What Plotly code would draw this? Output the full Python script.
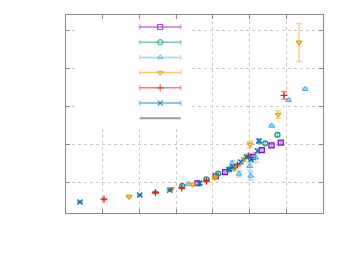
import plotly.graph_objects as go

# ---- data ----
s1_x = [3.580, 4.079, 4.332, 5.095, 5.332, 5.597, 5.850]
s1_y = [0.974, 1.158, 1.266, 1.666, 1.845, 1.968, 2.042]
s1_e = [0.03, 0.03, 0.03, 0.04, 0.04, 0.04, 0.04]

s2_x = [3.166, 3.826, 4.147, 4.455, 5.428, 5.760]
s2_y = [0.903, 1.079, 1.226, 1.342, 2.021, 2.245]
s2_e = [0.03, 0.03, 0.03, 0.03, 0.04, 0.04]

s3_x = [2.436, 3.335, 4.534, 4.714, 5.003, 5.033, 5.169, 5.259, 5.605, 6.060, 6.512]
s3_y = [0.732, 0.947, 1.500, 1.218, 1.422, 1.166, 1.647, 2.061, 2.482, 3.158, 3.447]
s3_e = [0.02, 0.02, 0.07, 0.08, 0.10, 0.11, 0.13, 0.05, 0.03, 0.03, 0.03]

s4_x = [1.717, 2.866, 3.444, 4.052, 4.578, 4.850, 5.014, 5.777, 6.349]
s4_y = [0.621, 0.824, 0.947, 1.121, 1.358, 1.605, 1.995, 2.779, 4.674]
s4_e = [0.02, 0.02, 0.03, 0.03, 0.04, 0.05, 0.09, 0.10, 0.50]

s5_x = [1.035, 2.436, 3.153, 3.826, 4.670, 4.970, 5.940]
s5_y = [0.553, 0.732, 0.850, 1.034, 1.455, 1.692, 3.284]
s5_e = [0.02, 0.02, 0.02, 0.03, 0.04, 0.05, 0.10]

s6_x = [0.381, 2.008, 2.826, 3.643, 4.441, 4.542, 4.760, 4.916, 5.041, 5.215, 5.259]
s6_y = [0.482, 0.666, 0.789, 0.974, 1.342, 1.403, 1.534, 1.666, 1.605, 1.824, 2.087]
s6_e = [0.02, 0.02, 0.02, 0.03, 0.03, 0.04, 0.04, 0.04, 0.05, 0.05, 0.05]

x_ticks = [0, 1, 2, 3, 4, 5, 6, 7]
y_ticks = [1, 2, 3, 4, 5]

series = [
    (s1_x, s1_y, s1_e, "#9400d3", "square-open"),
    (s2_x, s2_y, s2_e, "#009e73", "circle-open"),
    (s3_x, s3_y, s3_e, "#56b4e9", "triangle-up-open"),
    (s4_x, s4_y, s4_e, "#e69f00", "triangle-down-open"),
    (s5_x, s5_y, s5_e, "#e51e10", "cross-thin-open"),
    (s6_x, s6_y, s6_e, "#0072b2", "x-thin-open"),
]


def rgba(h, a):
    h = h.lstrip("#")
    return "rgba(%d,%d,%d,%.2f)" % (int(h[0:2], 16), int(h[2:4], 16), int(h[4:6], 16), a)


fig = go.Figure()

for xs, ys, es, col, sym in series:
    fig.add_trace(go.Scatter(
        x=xs, y=ys, mode="markers",
        marker=dict(symbol=sym, size=5, color=col, line=dict(color=col, width=1.2)),
        error_y=dict(type="data", array=es, visible=True, color=rgba(col, 0.45),
                     thickness=1.5, width=3),
        showlegend=False,
    ))

# ---- custom key (gnuplot style), drawn on a pixel overlay axis ----
key_x0, key_x1 = 139, 180
key_y0, key_dy = 26, 15.2
for i, (xs, ys, es, col, sym) in enumerate(series):
    yy = key_y0 + i * key_dy
    fig.add_trace(go.Scatter(
        x=[key_x0, key_x1], y=[yy, yy], mode="lines", xaxis="x2", yaxis="y2",
        line=dict(color=rgba(col, 0.55), width=1.5),
        error_y=dict(type="constant", value=2.5, color=rgba(col, 0.3), thickness=2, width=0),
        showlegend=False, hoverinfo="skip",
    ))
    fig.add_trace(go.Scatter(
        x=[(key_x0 + key_x1) / 2], y=[yy], mode="markers", xaxis="x2", yaxis="y2",
        marker=dict(symbol=sym, size=5, color=rgba(col, 0.7),
                    line=dict(color=rgba(col, 0.7), width=1.2)),
        showlegend=False, hoverinfo="skip",
    ))
yy = key_y0 + 6 * key_dy
fig.add_trace(go.Scatter(
    x=[key_x0, key_x1], y=[yy, yy], mode="lines", xaxis="x2", yaxis="y2",
    line=dict(color="#9a9a9a", width=2), showlegend=False, hoverinfo="skip",
))

axis_common = dict(
    showline=True, mirror="ticks", linecolor="#8a8a8a", linewidth=1,
    ticks="inside", ticklen=4, tickcolor="#8a8a8a", tickwidth=1,
    showticklabels=False, showgrid=True, gridcolor="#cccccc", griddash="dot",
    gridwidth=1, zeroline=False,
)

fig.update_layout(
    width=350, height=261,
    margin=dict(l=58, r=35, t=7, b=56),
    paper_bgcolor="white", plot_bgcolor="white",
    xaxis=dict(range=[0, 7], tickvals=x_ticks, **axis_common),
    yaxis=dict(range=[0.192, 5.395], tickvals=y_ticks, **axis_common),
    xaxis2=dict(overlaying="x", range=[65.3, 322.3], visible=False, fixedrange=True),
    yaxis2=dict(overlaying="y", range=[212, 14], visible=False, fixedrange=True),
    shapes=[dict(type="rect", xref="x", yref="y", x0=0.26, x1=3.37, y0=2.455, y1=5.395,
                 fillcolor="white", line=dict(width=0), layer="between")],
    showlegend=False,
)

fig.write_html("out.html")
